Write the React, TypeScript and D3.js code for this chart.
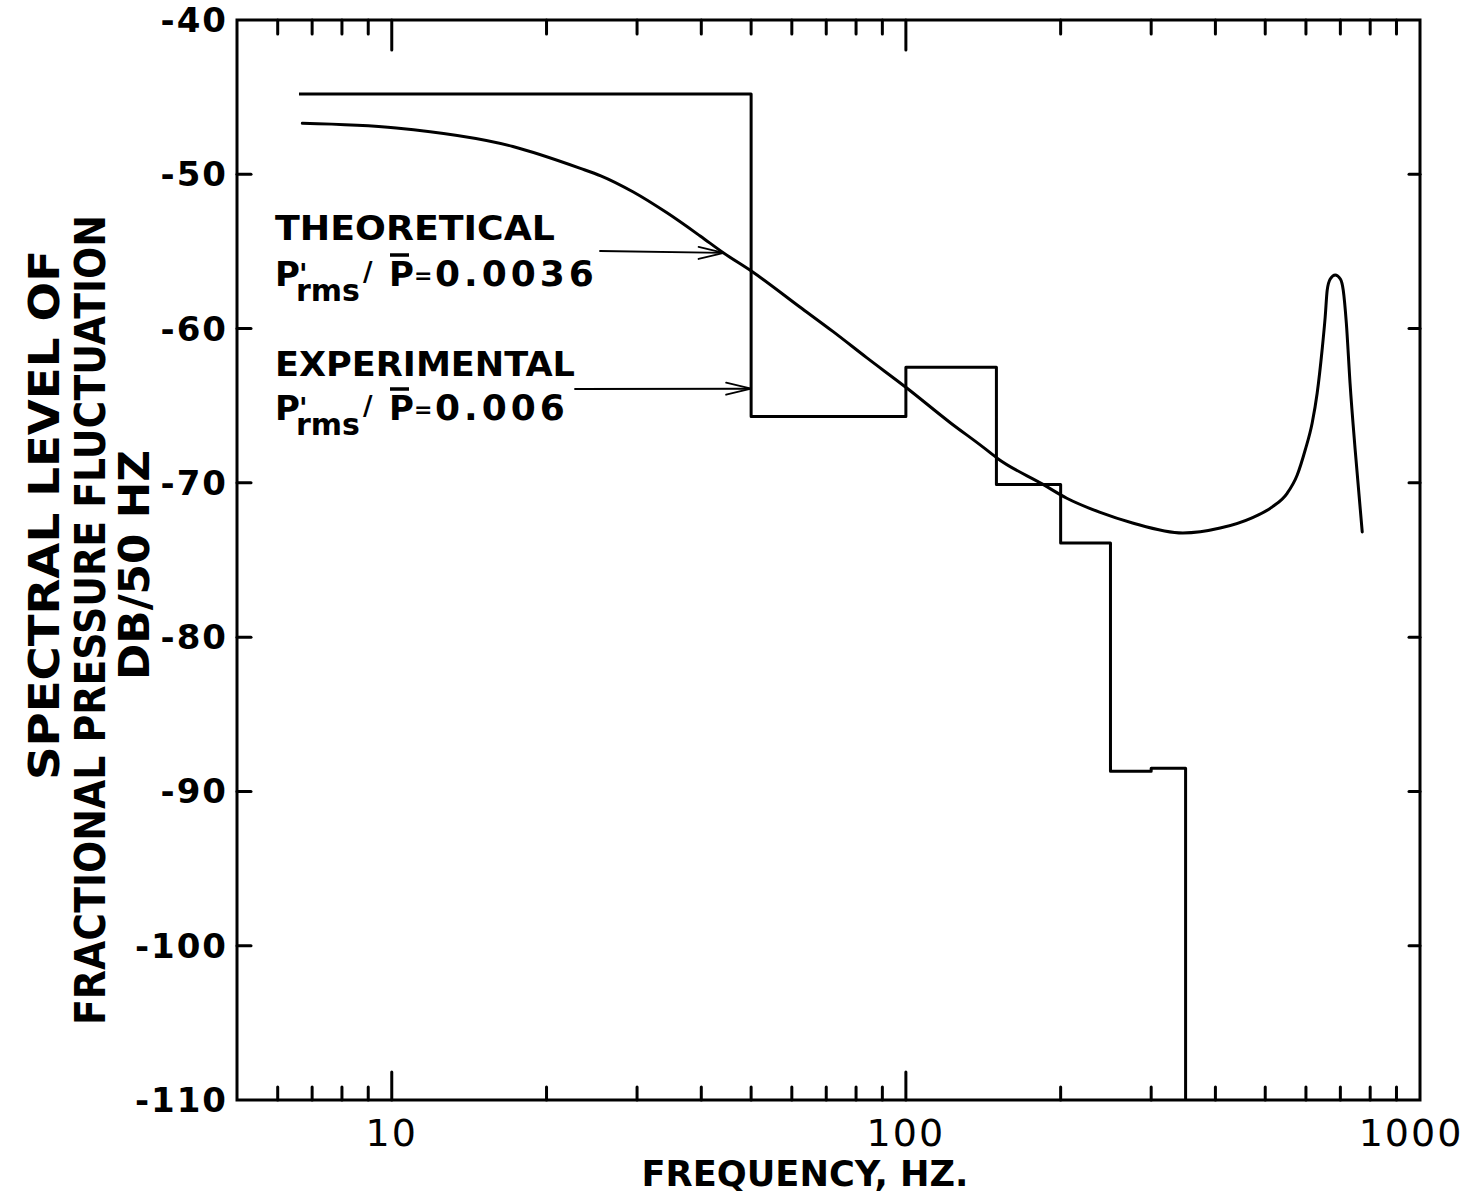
import React from "react";
import * as d3 from "d3";

// ---- data ----
const yTickValues = [-40, -50, -60, -70, -80, -90, -100, -110];
const yTickLabels = ["-40", "-50", "-60", "-70", "-80", "-90", "-100", "-110"];
const xMajorTicks = [10, 100, 1000];
const xMajorLabels = ["10", "100", "1000"];
const xMinorTicks = [6, 7, 8, 9, 20, 30, 40, 50, 60, 70, 80, 90, 200, 300, 400, 500, 600, 700, 800, 900];

// Experimental (band levels, step plot)
const expEdges = [6.6, 50, 100, 150, 200, 250, 300, 350];
const expLevels = [-44.8, -65.7, -62.5, -70.1, -73.9, -88.7, -88.5];

// Theoretical curve
const theoFreq = [6.7, 10.2, 17.2, 23.2, 25.5, 29.5, 34.3, 39.8, 44.2, 50.2, 62.2, 72.2, 84, 100.4, 122, 141.5, 150.5, 184.8, 205.6, 238, 276, 345.6, 408.6, 470, 516, 552, 577, 598, 617, 631, 645, 654, 660, 669, 684, 700, 709, 719, 731, 748, 772];
const theoDb = [-46.7, -47.0, -48.2, -49.6, -50.1, -51.15, -52.5, -54.0, -55.1, -56.3, -58.6, -60.2, -61.9, -63.85, -66.1, -67.7, -68.4, -70.1, -71.0, -71.9, -72.6, -73.25, -72.93, -72.28, -71.56, -70.66, -69.49, -67.87, -66.12, -64.18, -61.39, -59.25, -57.5, -56.79, -56.53, -56.79, -57.5, -59.64, -63.53, -67.87, -73.18];

const FONT = "'DejaVu Sans', 'Liberation Sans', sans-serif";

export default function App() {
  const W = 1471;
  const H = 1195;
  const L = 237, R = 1420, T = 20, B = 1100;
  const x = d3.scaleLog().domain([5, 1000]).range([L, R]);
  const y = d3.scaleLinear().domain([-110, -40]).range([B, T]);

  const expPts: [number, number][] = expLevels.map((l, i) => [expEdges[i], l]);
  expPts.push([expEdges[expEdges.length - 1], expLevels[expLevels.length - 1]]);
  expPts.push([expEdges[expEdges.length - 1], -110]);
  const stepLine = d3
    .line<[number, number]>()
    .x((d) => x(d[0]))
    .y((d) => y(d[1]))
    .curve(d3.curveStepAfter);

  const theoPts: [number, number][] = theoFreq.map((f, i) => [f, theoDb[i]]);
  const theoLine = d3
    .line<[number, number]>()
    .x((d) => x(d[0]))
    .y((d) => y(d[1]))
    .curve(d3.curveMonotoneX);

  const sw = 3;
  const innerY = yTickValues.slice(1, -1);

  // arrow tips derived from data positions
  const tTip: [number, number] = [x(44.2), y(-55.1)];
  const eTip: [number, number] = [x(50), y(-63.9)];

  const arrow = (x0: number, y0: number, tip: [number, number]) => {
    const [tx, ty] = tip;
    return (
      <g stroke="#000" strokeWidth={1.8} fill="none" strokeLinecap="round">
        <line x1={x0} y1={y0} x2={tx} y2={ty} />
        <polyline points={`${tx - 25},${ty - 6} ${tx},${ty} ${tx - 25},${ty + 6}`} />
      </g>
    );
  };

  const formula = (by: number, num: string) => (
    <g>
      <text fontFamily={FONT} fontWeight="bold" fill="#000">
        <tspan x={275} y={by} fontSize={34}>P</tspan>
        <tspan x={299} y={by - 2} fontSize={28}>'</tspan>
        <tspan x={296} y={by + 15} fontSize={30}>rms</tspan>
        <tspan x={363} y={by - 5} fontSize={26}>/</tspan>
        <tspan x={389} y={by} fontSize={34}>P</tspan>
        <tspan x={414} y={by - 3} fontSize={22}>=</tspan>
        <tspan x={435} y={by} fontSize={36} letterSpacing={4}>{num}</tspan>
      </text>
      <line x1={390} x2={409} y1={by - 31} y2={by - 31} stroke="#000" strokeWidth={3.5} />
    </g>
  );

  return (
    <svg
      width={W}
      height={H}
      viewBox={`0 0 ${W} ${H}`}
      style={{ position: "absolute", left: 0, top: 0, background: "#fff" }}
    >
      <rect x={0} y={0} width={W} height={H} fill="#fff" />

      {/* frame */}
      <rect x={L} y={T} width={R - L} height={B - T} fill="none" stroke="#000" strokeWidth={sw} />

      {/* x ticks top & bottom */}
      <g stroke="#000" strokeWidth={3} strokeLinecap="round">
        {xMinorTicks.map((v) => (
          <g key={"mn" + v}>
            <line x1={x(v)} x2={x(v)} y1={T} y2={T + 14} />
            <line x1={x(v)} x2={x(v)} y1={B} y2={B - 13} />
          </g>
        ))}
        {xMajorTicks.slice(0, 2).map((v) => (
          <g key={"mj" + v}>
            <line x1={x(v)} x2={x(v)} y1={T} y2={T + 30} />
            <line x1={x(v)} x2={x(v)} y1={B} y2={B - 28} />
          </g>
        ))}
        {innerY.map((v) => (
          <g key={"yt" + v}>
            <line x1={L} x2={L + 14} y1={y(v)} y2={y(v)} />
            <line x1={R} x2={R - 11} y1={y(v)} y2={y(v)} />
          </g>
        ))}
      </g>

      {/* y tick labels */}
      <g fontFamily={FONT} fontWeight="bold" fontSize={34} fill="#000" textAnchor="end">
        {yTickValues.map((v, i) => (
          <text key={v} x={228} y={y(v) + 12} letterSpacing={2}>
            {yTickLabels[i]}
          </text>
        ))}
      </g>

      {/* x tick labels */}
      <g fontFamily={FONT} fontSize={38} fill="#000" textAnchor="middle">
        {xMajorTicks.map((v, i) => (
          <text key={v} x={i === 2 ? x(v) - 9 : x(v)} y={1146} letterSpacing={2}>
            {xMajorLabels[i]}
          </text>
        ))}
      </g>

      {/* axis titles */}
      <text
        x={805}
        y={1186}
        fontFamily={FONT}
        fontWeight="bold"
        fontSize={36}
        textAnchor="middle"
        textLength={327}
        lengthAdjust="spacingAndGlyphs"
      >
        FREQUENCY, HZ.
      </text>
      <g fontFamily={FONT} fontWeight="bold" fontSize={42} fill="#000" textAnchor="middle">
        <text transform="translate(59,515) rotate(-90)" textLength={530} lengthAdjust="spacingAndGlyphs">
          SPECTRAL LEVEL OF
        </text>
        <text transform="translate(105,620) rotate(-90)" textLength={810} lengthAdjust="spacingAndGlyphs">
          FRACTIONAL PRESSURE FLUCTUATION
        </text>
        <text transform="translate(149,565) rotate(-90)" textLength={230} lengthAdjust="spacingAndGlyphs">
          DB/50 HZ
        </text>
      </g>

      {/* data */}
      <path d={stepLine(expPts) || ""} fill="none" stroke="#000" strokeWidth={3} strokeLinejoin="round" />
      <path d={theoLine(theoPts) || ""} fill="none" stroke="#000" strokeWidth={3} strokeLinecap="round" />

      {/* annotations */}
      <text x={275} y={240} fontFamily={FONT} fontWeight="bold" fontSize={34} textLength={280} lengthAdjust="spacingAndGlyphs">
        THEORETICAL
      </text>
      {formula(286, "0.0036")}
      {arrow(600, 251, tTip)}

      <text x={275} y={376} fontFamily={FONT} fontWeight="bold" fontSize={34} textLength={300} lengthAdjust="spacingAndGlyphs">
        EXPERIMENTAL
      </text>
      {formula(420, "0.006")}
      {arrow(575, 389, eTip)}
    </svg>
  );
}
